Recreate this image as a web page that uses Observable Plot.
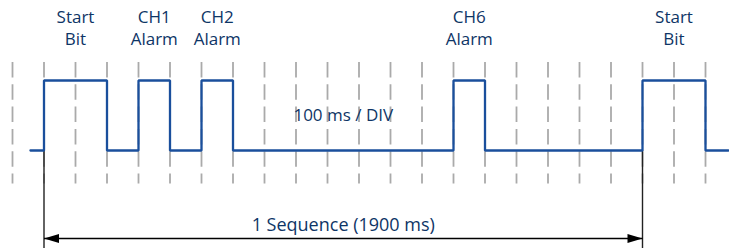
<!DOCTYPE html>
<html>
<head>
<meta charset="utf-8">
<script src="https://cdn.jsdelivr.net/npm/d3@7"></script>
<script src="https://cdn.jsdelivr.net/npm/@observablehq/plot@0.6"></script>
<style>
  html, body { margin: 0; padding: 0; background: #fff; }
  #chart svg { display: block; }
</style>
</head>
<body>
<div id="chart"></div>
<script>
// Time grid (ms), one division = 100 ms
const gridTimes = [-100, 0, 100, 200, 300, 400, 500, 600, 700, 800, 900, 1000,
                   1100, 1200, 1300, 1400, 1500, 1600, 1700, 1800, 1900, 2000, 2100];
// Signal transitions (ms) and logic levels (step-after)
const edgeTimes  = [-43, 0, 200, 300, 400, 500, 600, 1300, 1400, 1900, 2100, 2173];
const edgeLevels = [0,   1, 0,   1,   0,   1,   0,   1,    0,    1,    0,    0];
// Pulse labels
const labelTexts = ["Start\nBit", "CH1\nAlarm", "CH2\nAlarm", "CH6\nAlarm", "Start\nBit"];
const labelTimes = [100, 350, 550, 1350, 2000];
// Annotations
const divText = "100 ms / DIV";
const divTime = 950;
const seqTimes = [0, 1900];
const seqText = "1 Sequence (1900 ms)";

const signal = edgeTimes.map((t, i) => ({t, v: edgeLevels[i]}));
const labels = labelTimes.map((t, i) => ({t, text: labelTexts[i]}));

const navy = "#0e3566";
const blue = "#1a4f9c";
const font = "'Open Sans', sans-serif";

// Arrowhead symbols (tip at origin)
const headLeft = {draw(ctx) { ctx.moveTo(0, 0); ctx.lineTo(15, -4.5); ctx.lineTo(15, 4.5); ctx.closePath(); }};
const headRight = {draw(ctx) { ctx.moveTo(0, 0); ctx.lineTo(-15, -4.5); ctx.lineTo(-15, 4.5); ctx.closePath(); }};

const chart = Plot.plot({
  width: 729,
  height: 248,
  marginTop: 0, marginBottom: 0, marginLeft: 0, marginRight: 0,
  x: {domain: [0, 1900], range: [43.5, 642], axis: null},
  y: {domain: [0, 1], range: [150, 80], axis: null},
  style: {background: "#fff", overflow: "visible", fontFamily: font},
  marks: [
    Plot.ruleX(gridTimes, {x: d => d, y1: 1.257, y2: -0.48, stroke: "#aaaaaa", strokeWidth: 1.8, strokeDasharray: "15.5,6.8"}),
    Plot.ruleX(seqTimes, {x: d => d, y1: 0, y2: -1.45, stroke: "#222", strokeWidth: 1.4}),
    Plot.link([seqTimes], {x1: d => d[0], x2: d => d[1], y1: -1.257, y2: -1.257, stroke: "#000", strokeWidth: 1.4}),
    Plot.dot([seqTimes[0]], {x: d => d, y: -1.257, symbol: headLeft, fill: "#000", stroke: null}),
    Plot.dot([seqTimes[1]], {x: d => d, y: -1.257, symbol: headRight, fill: "#000", stroke: null}),
    Plot.line(signal, {x: "t", y: "v", curve: "step-after", stroke: blue, strokeWidth: 2.3, strokeLinejoin: "miter"}),
    Plot.text(labels, {x: "t", y: 1.764, text: "text", fill: navy, fontSize: 17, fontWeight: 500, lineHeight: 1.3, lineAnchor: "middle", fontFamily: font}),
    Plot.text([divText], {x: divTime, y: 0.5, text: d => d, fill: navy, fontSize: 17, fontWeight: 500, lineAnchor: "middle", fontFamily: font}),
    Plot.text([seqText], {x: (seqTimes[0] + seqTimes[1]) / 2, y: -1.064, text: d => d, fill: navy, fontSize: 18, fontWeight: 500, lineAnchor: "middle", fontFamily: font})
  ]
});
document.getElementById("chart").appendChild(chart);
</script>
</body>
</html>
